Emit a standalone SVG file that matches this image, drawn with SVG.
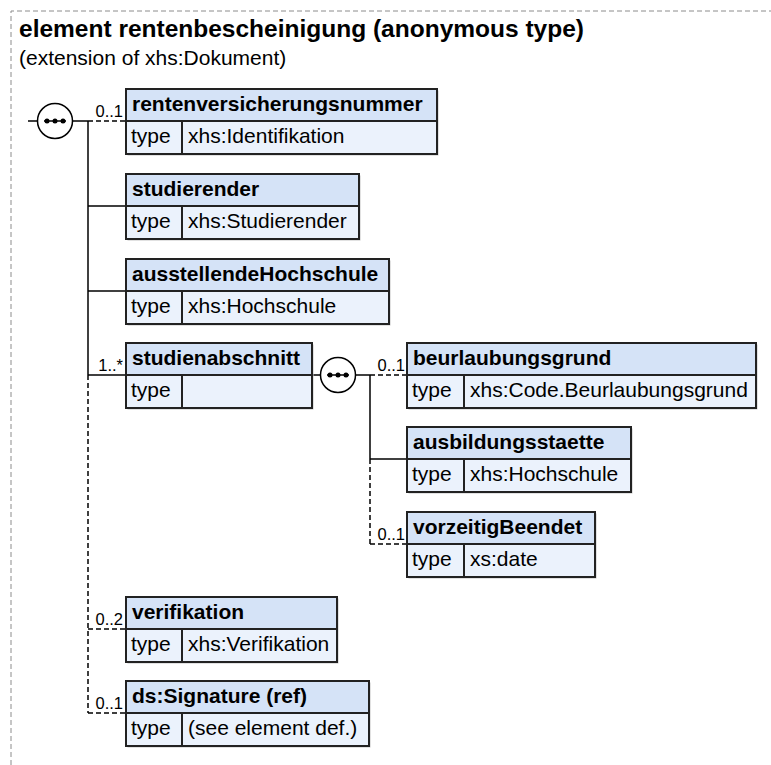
<svg xmlns="http://www.w3.org/2000/svg" width="771" height="765" viewBox="0 0 771 765">
<style>
.bg{fill:#ffffff}
.frame{stroke:#8c8c8c;stroke-width:1;stroke-dasharray:5 3;fill:none}
.ttl{font-family:"Liberation Sans",Arial,sans-serif;font-weight:bold;font-size:24.5px;fill:#000}
.sub{font-family:"Liberation Sans",Arial,sans-serif;font-size:21px;fill:#000}
.sh{fill:#c4c4c4}
.hd{fill:#d5e3f7;stroke:#222;stroke-width:2}
.rw{fill:#ebf2fc;stroke:#222;stroke-width:2}
.dv{stroke:#222;stroke-width:2}
.nm{font-family:"Liberation Sans",Arial,sans-serif;font-weight:bold;font-size:21px;fill:#000}
.tx{font-family:"Liberation Sans",Arial,sans-serif;font-size:21px;fill:#000}
.card{font-family:"Liberation Sans",Arial,sans-serif;font-size:16.5px;fill:#000;text-anchor:end}
.c{stroke:#000;stroke-width:1.5;fill:none}
.d{stroke-dasharray:5 3}
.seq{fill:#fff;stroke:#000;stroke-width:1.5}
.dot{fill:#000}
</style>
<rect class="bg" x="0" y="0" width="771" height="765"/>
<path class="frame" d="M11,765 V11 H771"/>
<text class="ttl" x="19" y="37">element rentenbescheinigung (anonymous type)</text>
<text class="sub" x="19" y="65">(extension of xhs:Dokument)</text>

<g id="connectors">
<line class="c" x1="28" y1="121" x2="37.5" y2="121"/>
<line class="c" x1="72.5" y1="121" x2="88" y2="121"/>
<line class="c" x1="88" y1="121" x2="88" y2="375"/>
<line class="c d" x1="88" y1="375" x2="88" y2="713"/>
<line class="c d" x1="88" y1="121" x2="126" y2="121"/>
<line class="c" x1="88" y1="206" x2="126" y2="206"/>
<line class="c" x1="88" y1="291" x2="126" y2="291"/>
<line class="c" x1="88" y1="375" x2="126" y2="375"/>
<line class="c d" x1="88" y1="629" x2="126" y2="629"/>
<line class="c d" x1="88" y1="713" x2="126" y2="713"/>
<line class="c" x1="312" y1="375" x2="320.5" y2="375"/>
<line class="c" x1="355.5" y1="375" x2="370" y2="375"/>
<line class="c" x1="370" y1="375" x2="370" y2="459"/>
<line class="c d" x1="370" y1="459" x2="370" y2="544"/>
<line class="c d" x1="370" y1="375" x2="407" y2="375"/>
<line class="c" x1="370" y1="459" x2="407" y2="459"/>
<line class="c d" x1="370" y1="544" x2="407" y2="544"/>
<text class="card" x="123" y="117">0..1</text>
<text class="card" x="123" y="371">1..*</text>
<text class="card" x="405" y="371">0..1</text>
<text class="card" x="405" y="540">0..1</text>
<text class="card" x="123" y="625">0..2</text>
<text class="card" x="123" y="709">0..1</text>
</g>

<g id="seq-main">
<circle class="seq" cx="55" cy="121" r="17.5"/>
<line class="c" x1="44" y1="121" x2="66" y2="121"/>
<circle class="dot" cx="47" cy="121" r="2.5"/>
<circle class="dot" cx="55" cy="121" r="2.5"/>
<circle class="dot" cx="63" cy="121" r="2.5"/>
</g>

<g id="seq-studienabschnitt">
<circle class="seq" cx="338" cy="375" r="17.5"/>
<line class="c" x1="327" y1="375" x2="349" y2="375"/>
<circle class="dot" cx="330" cy="375" r="2.5"/>
<circle class="dot" cx="338" cy="375" r="2.5"/>
<circle class="dot" cx="346" cy="375" r="2.5"/>
</g>

<g id="n-rentenversicherungsnummer">
<rect class="sh" x="127.5" y="90.5" width="311" height="65"/>
<rect class="hd" x="126" y="89" width="311" height="32"/>
<rect class="rw" x="126" y="121" width="311" height="33"/>
<line class="dv" x1="182" y1="121" x2="182" y2="154"/>
<text class="nm" x="132" y="111">rentenversicherungsnummer</text>
<text class="tx" x="131" y="143">type</text>
<text class="tx" x="188" y="143">xhs:Identifikation</text>
</g>

<g id="n-studierender">
<rect class="sh" x="127.5" y="175.5" width="233" height="65"/>
<rect class="hd" x="126" y="174" width="233" height="32"/>
<rect class="rw" x="126" y="206" width="233" height="33"/>
<line class="dv" x1="182" y1="206" x2="182" y2="239"/>
<text class="nm" x="132" y="196">studierender</text>
<text class="tx" x="131" y="228">type</text>
<text class="tx" x="188" y="228">xhs:Studierender</text>
</g>

<g id="n-ausstellendeHochschule">
<rect class="sh" x="127.5" y="260.5" width="263" height="65"/>
<rect class="hd" x="126" y="259" width="263" height="32"/>
<rect class="rw" x="126" y="291" width="263" height="33"/>
<line class="dv" x1="182" y1="291" x2="182" y2="324"/>
<text class="nm" x="132" y="281">ausstellendeHochschule</text>
<text class="tx" x="131" y="313">type</text>
<text class="tx" x="188" y="313">xhs:Hochschule</text>
</g>

<g id="n-studienabschnitt">
<rect class="sh" x="127.5" y="344.5" width="186" height="65"/>
<rect class="hd" x="126" y="343" width="186" height="32"/>
<rect class="rw" x="126" y="375" width="186" height="33"/>
<line class="dv" x1="182" y1="375" x2="182" y2="408"/>
<text class="nm" x="132" y="365">studienabschnitt</text>
<text class="tx" x="131" y="397">type</text>
</g>

<g id="n-beurlaubungsgrund">
<rect class="sh" x="408.5" y="344.5" width="349" height="65"/>
<rect class="hd" x="407" y="343" width="349" height="32"/>
<rect class="rw" x="407" y="375" width="349" height="33"/>
<line class="dv" x1="464" y1="375" x2="464" y2="408"/>
<text class="nm" x="413" y="365">beurlaubungsgrund</text>
<text class="tx" x="412" y="397">type</text>
<text class="tx" x="470" y="397">xhs:Code.Beurlaubungsgrund</text>
</g>

<g id="n-ausbildungsstaette">
<rect class="sh" x="408.5" y="428.5" width="224" height="65"/>
<rect class="hd" x="407" y="427" width="224" height="32"/>
<rect class="rw" x="407" y="459" width="224" height="33"/>
<line class="dv" x1="464" y1="459" x2="464" y2="492"/>
<text class="nm" x="413" y="449">ausbildungsstaette</text>
<text class="tx" x="412" y="481">type</text>
<text class="tx" x="470" y="481">xhs:Hochschule</text>
</g>

<g id="n-vorzeitigBeendet">
<rect class="sh" x="408.5" y="513.5" width="188" height="65"/>
<rect class="hd" x="407" y="512" width="188" height="32"/>
<rect class="rw" x="407" y="544" width="188" height="33"/>
<line class="dv" x1="464" y1="544" x2="464" y2="577"/>
<text class="nm" x="413" y="534">vorzeitigBeendet</text>
<text class="tx" x="412" y="566">type</text>
<text class="tx" x="470" y="566">xs:date</text>
</g>

<g id="n-verifikation">
<rect class="sh" x="127.5" y="598.5" width="211" height="65"/>
<rect class="hd" x="126" y="597" width="211" height="32"/>
<rect class="rw" x="126" y="629" width="211" height="33"/>
<line class="dv" x1="182" y1="629" x2="182" y2="662"/>
<text class="nm" x="132" y="619">verifikation</text>
<text class="tx" x="131" y="651">type</text>
<text class="tx" x="188" y="651">xhs:Verifikation</text>
</g>

<g id="n-ds-Signature">
<rect class="sh" x="127.5" y="682.5" width="243" height="65"/>
<rect class="hd" x="126" y="681" width="243" height="32"/>
<rect class="rw" x="126" y="713" width="243" height="33"/>
<line class="dv" x1="182" y1="713" x2="182" y2="746"/>
<text class="nm" x="132" y="703">ds:Signature (ref)</text>
<text class="tx" x="131" y="735">type</text>
<text class="tx" x="188" y="735">(see element def.)</text>
</g>
</svg>
